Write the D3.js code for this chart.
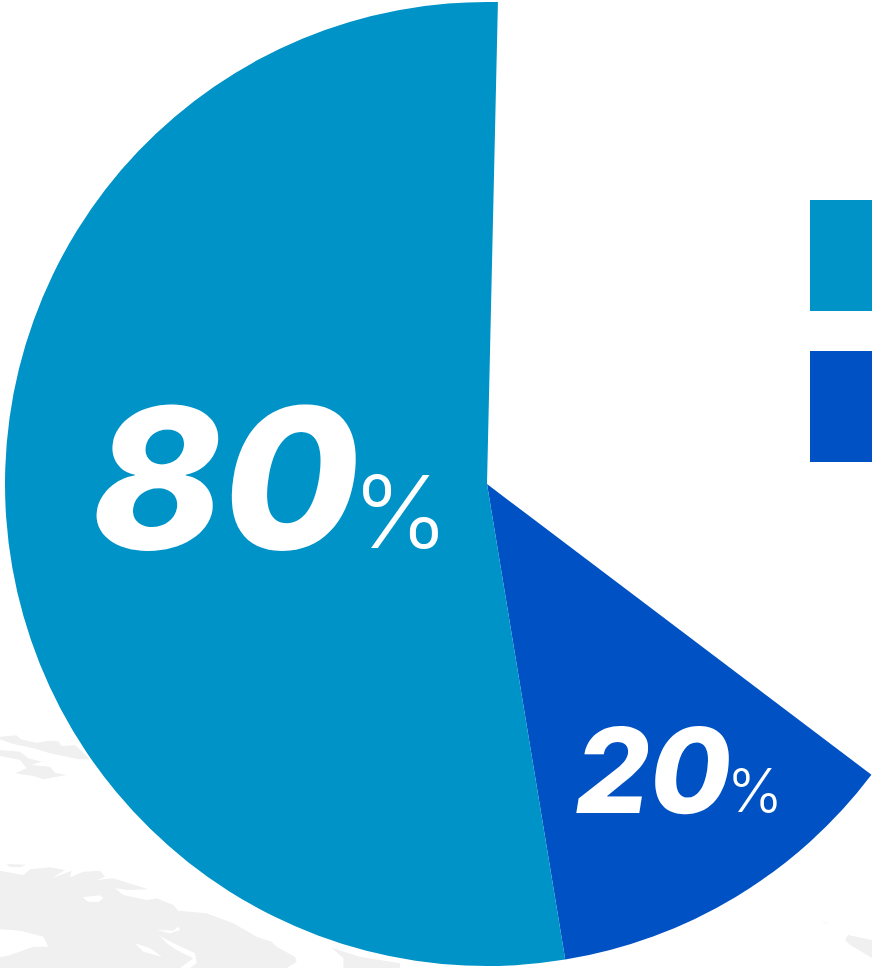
<!DOCTYPE html>
<html>
<head>
<meta charset="utf-8">
<script src="https://cdn.jsdelivr.net/npm/d3@7"></script>
<style>
  html, body { margin: 0; padding: 0; background: #fff; overflow: hidden; }
  svg { display: block; }
  text { fill: #fff; font-family: Inter, "Open Sans", sans-serif; }
  .big { font-weight: 800; }
  .pct { font-weight: 300; }
</style>
</head>
<body>
<div class="infographic"></div>
<script>
var width = 872, height = 968;

// the legend text is cut off by the frame in the source, only the swatches show
var categories = ["first", "second"];
var labels = ["80", "20"];
// share of the drawn sweep (not the same as the printed labels)
var shares = [81.4, 18.6];
var colors = ["#0093c7", "#0052c4"];

// faint world map behind the pie
var landShapes = [
  [[0,50],[50,46],[62,58],[110,68],[145,62],[175,64],[185,78],[225,75],[270,118],[235,118],[190,108],[150,100],[100,85],[40,72],[0,58]],
  [[0,90],[60,95],[85,115],[125,125],[95,135],[150,140],[165,158],[200,165],[130,178],[100,168],[45,160],[80,145],[60,120],[0,108]],
  [[20,432],[80,434],[60,442],[28,440]],
  [[0,452],[70,465],[90,448],[150,442],[195,450],[155,475],[215,452],[210,472],[250,455],[300,452],[315,470],[290,480],[340,475],[445,508],[380,510],[345,505],[370,525],[440,540],[470,535],[520,555],[535,572],[620,580],[700,610],[770,650],[815,665],[830,680],[885,710],[890,725],[860,744],[0,744]],
  [[995,683],[1080,710],[1200,730],[1200,744],[1030,744],[1030,715]],
  [[2460,603],[2490,612],[2475,610]],
  [[2535,660],[2544,645],[2616,660],[2616,714],[2550,675]]
];
var waterShapes = [
  [[0,628],[60,632],[130,650],[145,680],[100,680],[30,705],[0,712]],
  [[405,670],[450,685],[485,710],[430,695]],
  [[470,630],[520,632],[535,620],[540,630],[510,640]],
  [[480,648],[520,670],[585,700],[590,730],[570,744],[540,744],[580,715],[530,690],[500,670]],
  [[248,532],[300,526],[310,535],[295,546],[265,545]]
];

var svg = d3.select(".infographic")
  .append("svg")
  .attr("width", width)
  .attr("height", height);

var line = d3.line();

var map = svg.append("g")
  .attr("class", "map")
  .attr("transform", "translate(0,720) scale(" + (1 / 3) + ")");

map.selectAll(".land")
  .data(landShapes)
  .enter().append("path")
  .attr("class", "land")
  .attr("d", function(d) { return line(d) + "Z"; })
  .attr("fill", "#f0f0f0");

map.selectAll(".water")
  .data(waterShapes)
  .enter().append("path")
  .attr("class", "water")
  .attr("d", function(d) { return line(d) + "Z"; })
  .attr("fill", "#fff");

var color = d3.scaleOrdinal().domain(categories).range(colors);

var rows = categories.map(function(c, i) {
  return { name: c, label: labels[i], share: shares[i] };
});

var toRad = Math.PI / 180;

// slices run counter-clockwise from the top, so second one comes first here
var pie = d3.pie()
  .sort(null)
  .value(function(d) { return d.share; })
  .startAngle(127.1 * toRad)
  .endAngle(361.3 * toRad);

var arc = d3.arc().innerRadius(0).outerRadius(482);

var chart = svg.append("g")
  .attr("class", "pie")
  .attr("transform", "translate(487,484)");

chart.selectAll("path")
  .data(pie(rows.slice().reverse()))
  .enter().append("path")
  .attr("d", arc)
  .attr("fill", function(d) { return color(d.data.name); });

// legend swatches, they run off the right edge
var legendY = d3.scaleBand()
  .domain(categories)
  .range([200, 462])
  .paddingInner(0.265);

svg.selectAll(".swatch")
  .data(categories)
  .enter().append("rect")
  .attr("class", "swatch")
  .attr("x", 810)
  .attr("y", function(d) { return legendY(d); })
  .attr("width", 80)
  .attr("height", legendY.bandwidth())
  .attr("fill", function(d) { return color(d); });

// labels: upright heavy digits with a slight skew, closer to the source than the font's italic
svg.append("text").attr("class", "big")
  .attr("transform", "translate(83,549) skewX(-9)")
  .attr("font-size", 196)
  .attr("textLength", 268).attr("lengthAdjust", "spacingAndGlyphs")
  .text(labels[0]);
svg.append("text").attr("class", "pct")
  .attr("x", 352).attr("y", 548)
  .attr("font-size", 100)
  .attr("textLength", 97).attr("lengthAdjust", "spacingAndGlyphs")
  .text("%");
svg.append("text").attr("class", "big")
  .attr("transform", "translate(570,813) skewX(-9)")
  .attr("font-size", 118)
  .attr("textLength", 156).attr("lengthAdjust", "spacingAndGlyphs")
  .text(labels[1]);
svg.append("text").attr("class", "pct")
  .attr("x", 727).attr("y", 812)
  .attr("font-size", 60)
  .attr("textLength", 56).attr("lengthAdjust", "spacingAndGlyphs")
  .text("%");
</script>
</body>
</html>
